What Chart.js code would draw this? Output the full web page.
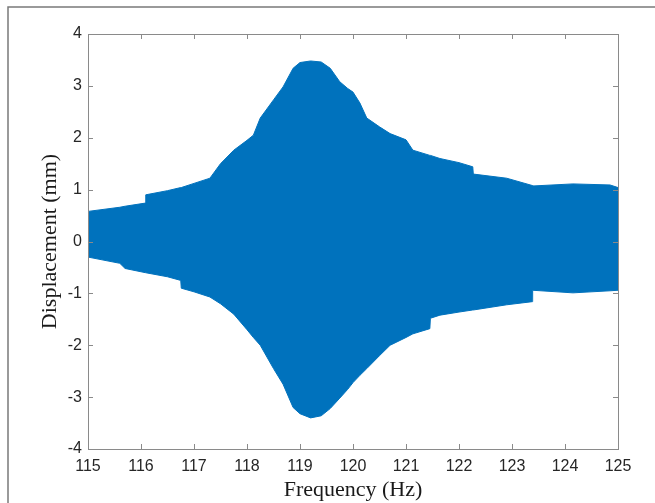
<!DOCTYPE html>
<html>
<head>
<meta charset="utf-8">
<script src="https://cdn.jsdelivr.net/npm/chart.js@4.4.1/dist/chart.umd.min.js"></script>
<style>
  body { margin: 0; background: #fff; }
  #wrap { width: 655px; height: 503px; }
</style>
</head>
<body>
<div id="wrap"><canvas id="chart" width="655" height="503"></canvas></div>
<script>
// envelope of the response
const freq = [115.0, 115.6, 115.7, 116.08, 116.09, 116.5, 116.75, 116.76, 117.0, 117.3,
  117.5, 117.75, 118.0, 118.12, 118.25, 118.5, 118.68, 118.87, 119.0, 119.2,
  119.4, 119.57, 119.75, 119.9, 120.0, 120.13, 120.26, 120.5, 120.7, 121.0,
  121.13, 121.45, 121.46, 121.64, 122.0, 122.26, 122.27, 122.9, 123.38, 123.39,
  124.15, 124.85, 125.0];
const upper = [0.58, 0.66, 0.68, 0.74, 0.90, 0.98, 1.04, 1.04, 1.12, 1.22,
  1.50, 1.76, 1.95, 2.05, 2.38, 2.73, 2.98, 3.34, 3.45, 3.48,
  3.46, 3.34, 3.08, 2.95, 2.88, 2.67, 2.38, 2.21, 2.08, 1.96,
  1.76, 1.66, 1.66, 1.60, 1.52, 1.44, 1.30, 1.22, 1.08, 1.07,
  1.11, 1.09, 1.04];
const lower = [-0.30, -0.42, -0.52, -0.60, -0.60, -0.68, -0.75, -0.90, -0.97, -1.07,
  -1.20, -1.40, -1.70, -1.85, -2.00, -2.45, -2.75, -3.20, -3.32, -3.40,
  -3.36, -3.22, -3.02, -2.85, -2.72, -2.58, -2.45, -2.20, -2.00, -1.85,
  -1.78, -1.68, -1.48, -1.42, -1.36, -1.32, -1.32, -1.22, -1.16, -0.94,
  -0.99, -0.95, -0.94];
const xTicks = [115, 116, 117, 118, 119, 120, 121, 122, 123, 124, 125];
const yTicks = [-4, -3, -2, -1, 0, 1, 2, 3, 4];

const blue = "#0072BD";
const labelFont = { family: "Liberation Sans", size: 16 };
const titleFont = { family: "Liberation Serif", size: 22 };

// box round the plot, inward ticks, and the outer frame
const boxPlugin = {
  id: "box",
  afterDraw(chart) {
    const ctx = chart.ctx;
    const a = chart.chartArea;
    const xs = chart.scales.x, ys = chart.scales.y;
    ctx.save();
    ctx.strokeStyle = "#8a8a8a";
    ctx.lineWidth = 1;
    ctx.strokeRect(Math.round(a.left) + 0.5, Math.round(a.top) + 0.5,
      Math.round(a.right - a.left), Math.round(a.bottom - a.top));
    ctx.beginPath();
    xTicks.forEach(v => {
      const px = Math.round(xs.getPixelForValue(v)) + 0.5;
      ctx.moveTo(px, a.bottom); ctx.lineTo(px, a.bottom - 5);
      ctx.moveTo(px, a.top); ctx.lineTo(px, a.top + 5);
    });
    yTicks.forEach(v => {
      const py = Math.round(ys.getPixelForValue(v)) + 0.5;
      ctx.moveTo(a.left, py); ctx.lineTo(a.left + 5, py);
      ctx.moveTo(a.right, py); ctx.lineTo(a.right - 5, py);
    });
    ctx.stroke();
    // outer frame of the figure
    ctx.strokeStyle = "#7a7a7a";
    ctx.lineWidth = 1.5;
    ctx.beginPath();
    ctx.moveTo(8, 503); ctx.lineTo(8, 7); ctx.lineTo(655, 7);
    ctx.stroke();
    ctx.restore();
  }
};

new Chart(document.getElementById("chart"), {
  type: "line",
  data: {
    labels: freq,
    datasets: [
      {
        data: freq.map((f, i) => ({ x: f, y: upper[i] })),
        borderColor: blue,
        backgroundColor: blue,
        borderWidth: 1,
        pointRadius: 0,
        fill: "+1"
      },
      {
        data: freq.map((f, i) => ({ x: f, y: lower[i] })),
        borderColor: blue,
        backgroundColor: blue,
        borderWidth: 1,
        pointRadius: 0,
        fill: false
      }
    ]
  },
  options: {
    responsive: false,
    animation: false,
    devicePixelRatio: 1,
    layout: { padding: { left: 0, right: 37, top: 34, bottom: 0 } },
    plugins: { legend: { display: false }, tooltip: { enabled: false } },
    scales: {
      x: {
        type: "linear",
        min: 115,
        max: 125,
        afterBuildTicks: s => { s.ticks = xTicks.map(v => ({ value: v })); },
        afterFit: s => { s.height = 54; },
        grid: { display: false, drawTicks: false },
        border: { display: false },
        ticks: { font: labelFont, color: "#262626", padding: 8, maxRotation: 0, autoSkip: false },
        title: { display: true, text: "Frequency (Hz)", font: titleFont, color: "#1a1a1a",
          padding: { top: 0, bottom: 0 } }
      },
      y: {
        min: -4,
        max: 4,
        afterBuildTicks: s => { s.ticks = yTicks.map(v => ({ value: v })); },
        afterFit: s => { s.width = 88; },
        grid: { display: false, drawTicks: false },
        border: { display: false },
        ticks: { font: labelFont, color: "#262626", padding: 6 },
        title: { display: true, text: "Displacement (mm)", font: titleFont, color: "#1a1a1a",
          padding: { top: 37, bottom: 0 } }
      }
    }
  },
  plugins: [boxPlugin]
});
</script>
</body>
</html>
